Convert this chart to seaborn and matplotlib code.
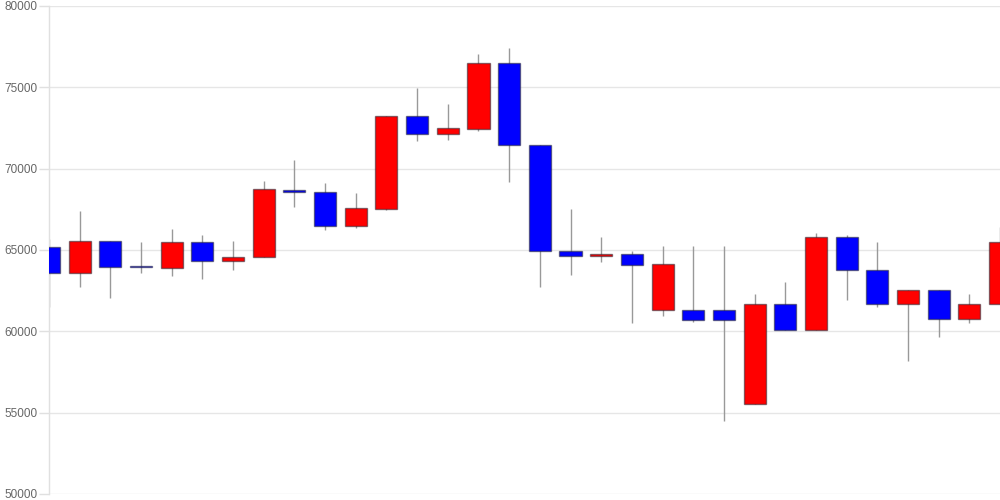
import matplotlib
matplotlib.use('Agg')
import matplotlib.pyplot as plt
import seaborn as sns
import numpy as np
import pandas as pd

# daily OHLC values
opens = [65170, 63570, 65530, 63950, 63910, 65470, 64300, 64550, 68710, 68550,
         66460, 67540, 73220, 72150, 72460, 76510, 71460, 64920, 64650, 64750,
         61290, 61310, 61310, 55510, 61660, 60100, 65780, 63750, 61660, 62520,
         60760, 61660]
closes = [63570, 65530, 63950, 63940, 65470, 64300, 64570, 68730, 68550, 66460,
          67560, 73220, 72150, 72480, 76510, 71460, 64920, 64650, 64750, 64100,
          64120, 60700, 60700, 61660, 60100, 65780, 63750, 61660, 62520, 60760,
          61660, 65510]
highs = [65680, 67380, 65530, 65510, 66310, 65920, 65570, 69260, 70550, 69120,
         68500, 73220, 74960, 73960, 77050, 77400, 71460, 67500, 65800, 64960,
         65250, 65250, 65250, 62300, 63010, 66030, 65920, 65470, 62520, 62520,
         62280, 66430]
lows = [61510, 62740, 62070, 63610, 63420, 63220, 63770, 64550, 67660, 66210,
        66370, 67440, 71720, 71780, 72300, 69200, 62740, 63450, 64240, 60530,
        60960, 60590, 54510, 55510, 60100, 60100, 61950, 61510, 58160, 59670,
        60530, 61660]

df = pd.DataFrame({'open': opens, 'close': closes, 'high': highs, 'low': lows})
df['day'] = np.arange(len(df))
df['up'] = df['close'] >= df['open']

sns.set_theme(style='whitegrid')
plt.rcParams['font.family'] = ['Liberation Sans', 'DejaVu Sans']

fig = plt.figure(figsize=(10, 5), dpi=100)
ax = fig.add_axes([0.049, 0.012, 0.951, 0.976])

# wicks
ax.vlines(df['day'], df['low'], df['high'], color='#999999', linewidth=1, zorder=2)

# bodies
body_lo = df[['open', 'close']].min(axis=1)
body_h = (df['close'] - df['open']).abs().clip(lower=60)
colors = np.where(df['up'], '#ff0000', '#0000ff')
ax.bar(df['day'], body_h, bottom=body_lo, width=0.72, color=colors,
       edgecolor=(0.15, 0.15, 0.2, 0.55), linewidth=1, zorder=3)

ax.set_xlim(0, len(df) - 1)
ax.set_ylim(50000, 80000)
ax.set_yticks(np.arange(50000, 80001, 5000))
ax.set_xticks([])
ax.tick_params(axis='y', labelsize=8.5, labelcolor='#666666', length=7,
               color='#e0e0e0', width=1, pad=1, left=True)
ax.grid(axis='y', color='#e6e6e6', linewidth=1)
ax.grid(axis='x', visible=False)
ax.set_facecolor('white')
for side in ['top', 'right', 'bottom']:
    ax.spines[side].set_visible(False)
ax.spines['left'].set_color('#e0e0e0')
ax.spines['left'].set_linewidth(1)

fig.savefig('out.png', dpi=100)
